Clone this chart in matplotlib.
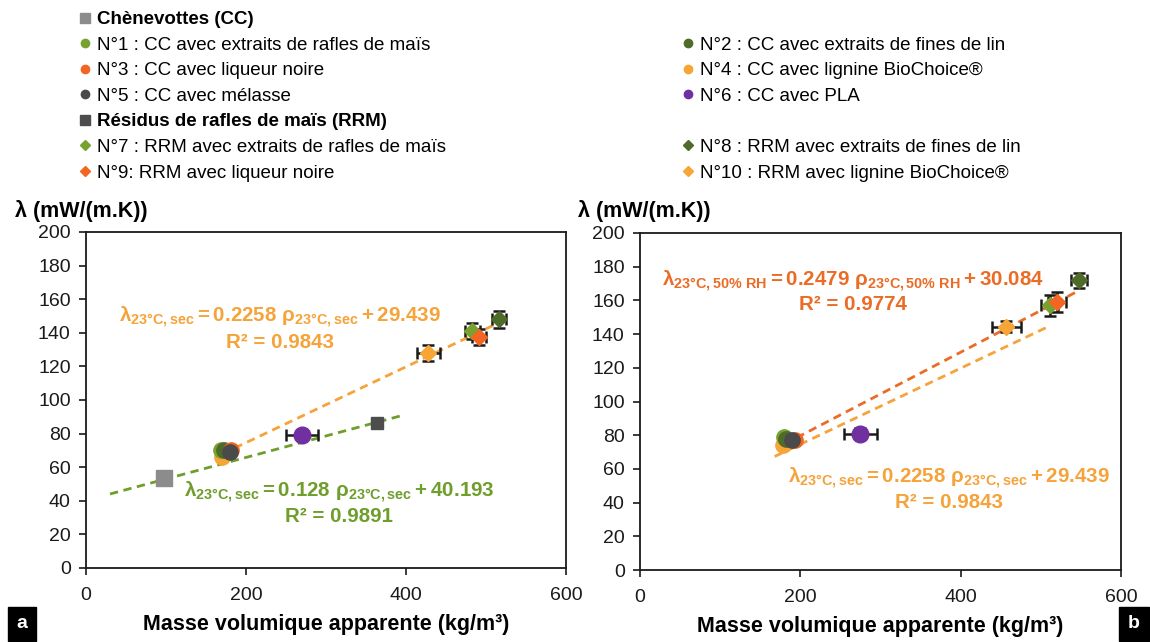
import numpy as np
import matplotlib
matplotlib.use('Agg')
import matplotlib.pyplot as plt
from matplotlib.lines import Line2D

plt.rcParams['font.family'] = ['Liberation Sans', 'DejaVu Sans']
plt.rcParams['mathtext.fontset'] = 'custom'
plt.rcParams['mathtext.rm'] = 'Liberation Sans:bold'
plt.rcParams['mathtext.bf'] = 'Liberation Sans:bold'
plt.rcParams['mathtext.it'] = 'Liberation Sans:bold'

# ---- data ----
labels = ['N°1 : CC avec extraits de rafles de maïs', 'N°2 : CC avec extraits de fines de lin',
          'N°3 : CC avec liqueur noire', 'N°4 : CC avec lignine BioChoice®',
          'N°5 : CC avec mélasse', 'N°6 : CC avec PLA',
          'N°7 : RRM avec extraits de rafles de maïs', 'N°8 : RRM avec extraits de fines de lin',
          'N°9: RRM avec liqueur noire', 'N°10 : RRM avec lignine BioChoice®']
colors = ['#78a22f', '#4e6b2a', '#f26522', '#f7a535', '#4a4a4a', '#7030a0',
          '#78a22f', '#4e6b2a', '#f26522', '#f7a535']
markers = ['o'] * 6 + ['D'] * 4

# panel a : dry state (23 °C, sec)
a_rho = [169, 172, 181, 170, 180, 270, 483, 516, 491, 428]
a_lam = [70, 70, 70, 66, 69, 79, 141, 148, 137.5, 128]
a_xerr = [0, 0, 0, 0, 0, 20, 9, 9, 9, 14]
a_yerr = [0, 0, 0, 0, 0, 2, 5, 5, 5, 5]
cc_rho, cc_lam = [98], [53.5]
rrm_rho, rrm_lam = [364], [86]

# panel b : 23 °C, 50 % RH
b_rho = [180, 182, 193, 178, 189, 275, 511, 548, 520, 457]
b_lam = [79, 78, 77, 74, 77, 81, 157, 172, 159, 144.5]
b_xerr = [0, 0, 0, 0, 0, 21, 11, 10, 11, 18]
b_yerr = [0, 0, 0, 0, 0, 3, 6, 4.5, 6, 3]

# trend lines (slope, intercept)
fit_sec = (0.2258, 29.439)
fit_rrm = (0.128, 40.193)
fit_rh = (0.2479, 30.084)

c_green = '#6f9e2c'
c_orange = '#f5a33a'
c_dorange = '#ea6c26'

fig = plt.figure(figsize=(11.5, 6.42), dpi=100)
ax_a = fig.add_axes([0.0748, 0.1153, 0.4174, 0.5234])
ax_b = fig.add_axes([0.5565, 0.1121, 0.4183, 0.5250])


def trend(ax, fit, x0, x1, col):
    xx = np.array([x0, x1])
    ax.plot(xx, fit[0] * xx + fit[1], ls=(0, (3, 2)), lw=2, color=col, zorder=1)


def points(ax, xs, ys, xe, ye):
    for i in range(len(xs)):
        if xe[i] > 0 or ye[i] > 0:
            ax.errorbar(xs[i], ys[i], xerr=xe[i], yerr=ye[i], fmt='none', ecolor='#1a1a1a',
                        elinewidth=1.8, capsize=4, capthick=1.8, zorder=2)
    for i in [3, 0, 1, 2, 4, 5, 9, 6, 7, 8]:
        ms = 11 if markers[i] == 'o' else 8
        if i == 5:
            ms = 12
        ax.plot(xs[i], ys[i], marker=markers[i], ms=ms, color=colors[i], ls='none', zorder=3)


def style(ax):
    ax.set_xlim(0, 600)
    ax.set_ylim(0, 200)
    ax.set_xticks([0, 200, 400, 600])
    ax.set_yticks(np.arange(0, 201, 20))
    ax.tick_params(direction='out', length=5, width=1.2, labelsize=14, colors='#1a1a1a')
    ax.tick_params(axis='x', pad=9)
    ax.tick_params(axis='y', pad=6)
    for s in ax.spines.values():
        s.set_linewidth(1.3)
        s.set_color('#1a1a1a')
    ax.set_xlabel('Masse volumique apparente (kg/m³)', fontsize=15.5, fontweight='bold', labelpad=7)


# panel a
trend(ax_a, fit_rrm, 30, 395, c_green)
trend(ax_a, fit_sec, 170, 516, c_orange)
points(ax_a, a_rho, a_lam, a_xerr, a_yerr)
ax_a.plot(cc_rho, cc_lam, 's', ms=11, color='#8c8c8c', zorder=3)
ax_a.plot(rrm_rho, rrm_lam, 's', ms=8, color='#4d4d4d', zorder=3)
style(ax_a)
eq_fs = 14.8
ax_a.text(243, 149.4, r'$\mathbf{\lambda_{23°C,sec}=0.2258\ \rho_{23°C,sec}+29.439}$',
          color=c_orange, fontsize=eq_fs, ha='center', va='center')
ax_a.text(243, 134.5, 'R² = 0.9843', color=c_orange, fontsize=eq_fs, fontweight='bold',
          ha='center', va='center')
ax_a.text(316, 45.2, r'$\mathbf{\lambda_{23°C,sec}=0.128\ \rho_{23°C,sec}+40.193}$',
          color=c_green, fontsize=eq_fs, ha='center', va='center')
ax_a.text(316, 30.4, 'R² = 0.9891', color=c_green, fontsize=eq_fs, fontweight='bold',
          ha='center', va='center')

# panel b
trend(ax_b, fit_sec, 168, 509, c_orange)
trend(ax_b, fit_rh, 180, 547, c_dorange)
points(ax_b, b_rho, b_lam, b_xerr, b_yerr)
style(ax_b)
ax_b.text(266, 171, r'$\mathbf{\lambda_{23°C,50\%\ RH}=0.2479\ \rho_{23°C,50\%\ RH}+30.084}$',
          color=c_dorange, fontsize=eq_fs, ha='center', va='center')
ax_b.text(266, 157.5, 'R² = 0.9774', color=c_dorange, fontsize=eq_fs, fontweight='bold',
          ha='center', va='center')
ax_b.text(386, 54.6, r'$\mathbf{\lambda_{23°C,sec}=0.2258\ \rho_{23°C,sec}+29.439}$',
          color=c_orange, fontsize=eq_fs, ha='center', va='center')
ax_b.text(386, 39.8, 'R² = 0.9843', color=c_orange, fontsize=eq_fs, fontweight='bold',
          ha='center', va='center')

# y axis titles
fig.text(15 / 1150, 1 - 211 / 642, 'λ (mW/(m.K))', fontsize=15.5, fontweight='bold', va='center')
fig.text(578 / 1150, 1 - 211 / 642, 'λ (mW/(m.K))', fontsize=15.5, fontweight='bold', va='center')

# panel letters
fig.text(22 / 1150, 1 - 624 / 642, 'a', fontsize=14, fontweight='bold', color='white',
         ha='center', va='center', bbox=dict(boxstyle='square,pad=0.45', fc='black', ec='black'))
fig.text(1134 / 1150, 1 - 624 / 642, 'b', fontsize=14, fontweight='bold', color='white',
         ha='center', va='center', bbox=dict(boxstyle='square,pad=0.45', fc='black', ec='black'))

# legend
def h(m, c, ms):
    return Line2D([], [], marker=m, color=c, ls='none', ms=ms)

blank = Line2D([], [], ls='none')
left_h = [h('s', '#8c8c8c', 7), h('o', colors[0], 6), h('o', colors[2], 6), h('o', colors[4], 6),
          h('s', '#4d4d4d', 7), h('D', colors[6], 5), h('D', colors[8], 5)]
left_l = ['Chènevottes (CC)', labels[0], labels[2], labels[4],
          'Résidus de rafles de maïs (RRM)', labels[6], labels[8]]
right_h = [blank, h('o', colors[1], 6), h('o', colors[3], 6), h('o', colors[5], 6),
           blank, h('D', colors[7], 5), h('D', colors[9], 5)]
right_l = [' ', labels[1], labels[3], labels[5], ' ', labels[7], labels[9]]

kw = dict(frameon=False, fontsize=13.5, handlelength=0.6, handletextpad=0.35,
          labelspacing=0.45, borderpad=0, borderaxespad=0, loc='upper left')
leg1 = fig.legend(left_h, left_l, bbox_to_anchor=(79 / 1150, 1 - 11 / 642), **kw)
leg2 = fig.legend(right_h, right_l, bbox_to_anchor=(682 / 1150, 1 - 11 / 642), **kw)
for t in leg1.get_texts():
    if t.get_text().startswith(('Chè', 'Rés')):
        t.set_fontweight('bold')

fig.savefig('out.png', dpi=100)
